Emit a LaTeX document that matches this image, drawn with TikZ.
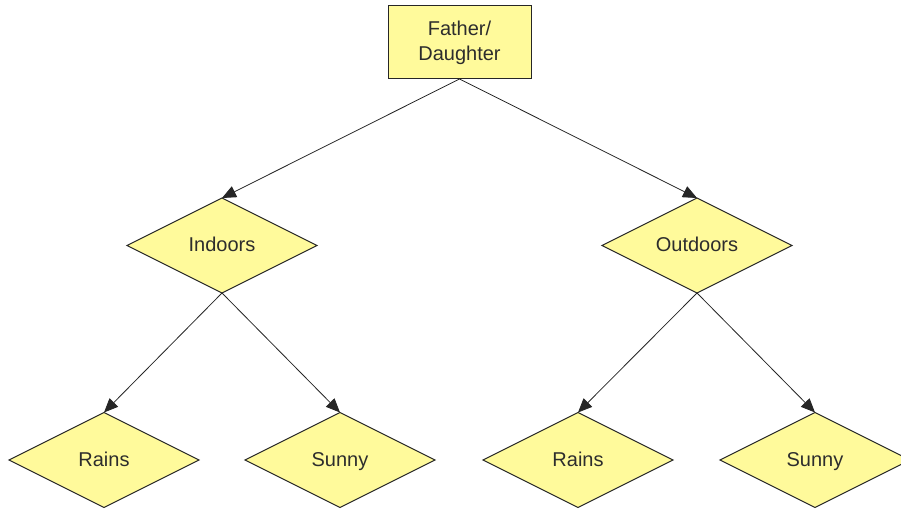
\documentclass[tikz,border=0pt]{standalone}
\usepackage{fontspec}
\setmainfont{Liberation Sans}
\usetikzlibrary{shapes.geometric,arrows.meta}
\definecolor{boxyellow}{RGB}{255,250,155}
\definecolor{inkgray}{RGB}{45,45,45}
\tikzstyle{box}=[rectangle,fill=boxyellow,draw=black!85,line width=1pt,minimum width=143pt,minimum height=73pt,inner sep=0pt,outer sep=0pt,align=center,text=inkgray]
\tikzstyle{choice}=[diamond,aspect=2,fill=boxyellow,draw=black!85,line width=1pt,minimum width=190pt,minimum height=95pt,inner sep=0pt,outer sep=0pt,text height=17pt,text depth=4pt,text=inkgray]
\tikzstyle{edge} = [draw,line width=0.8pt,black!85,-{Triangle[length=14pt,width=12pt]}]

\begin{document}
\begin{tikzpicture}[x=1pt,y=1pt,font=\fontsize{20}{25}\selectfont]
    \useasboundingbox (0,0) rectangle (901,508);
    % The top box
    \node[box] (root) at (459.5,465.5) {Father/\\Daughter};
    % Then the diamonds
    \foreach \pos/\name/\label in {{(222,262.5)/In/Indoors}, {(697,262.5)/Out/Outdoors}, {(104,48)/InR/Rains}, {(340,48)/InS/Sunny}, {(578,48)/OutR/Rains}, {(815,48)/OutS/Sunny}}
        \node[choice] (\name) at \pos {\label};
    % Connect them from bottom to top corner
    \foreach \source/ \dest in {root/In, root/Out, In/InR, In/InS, Out/OutR, Out/OutS}
        \path[edge] (\source.south) -- (\dest.north);
\end{tikzpicture}
\end{document}
